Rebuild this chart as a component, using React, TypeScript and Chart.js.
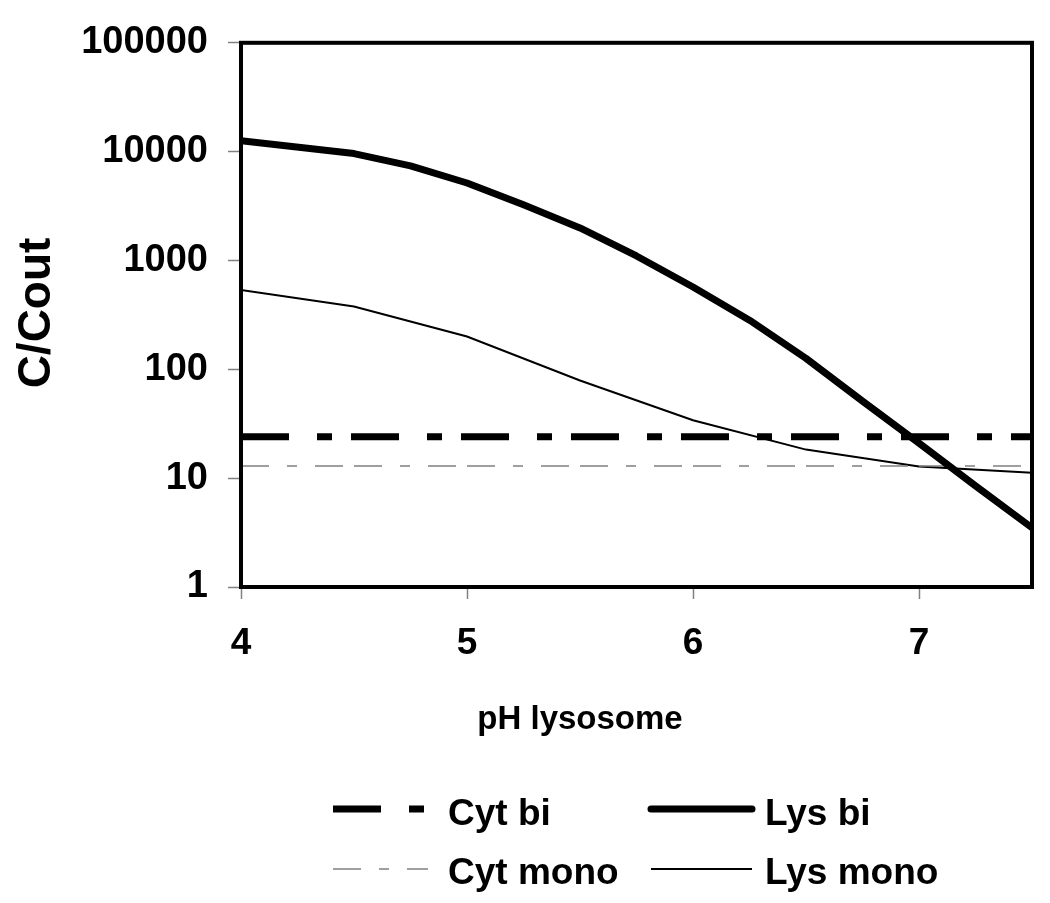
import React, { useEffect, useRef } from "react";
import { Chart, registerables } from "chart.js";

Chart.register(...registerables);

// ---- data ----
const phBi = [4, 4.5, 4.75, 5, 5.25, 5.5, 5.75, 6, 6.25, 6.5, 6.75, 7, 7.25, 7.5];
const lysBi = [12600, 9600, 7400, 5150, 3250, 1990, 1100, 570, 283, 126, 51, 21, 8.5, 3.5];
const phMono = [4, 4.5, 5, 5.5, 6, 6.5, 7, 7.5];
const lysMono = [535, 378, 200, 79, 34, 18.3, 12.8, 11.2];
const phRange = [4, 7.5];
const cytBi = [24, 24];
const cytMono = [12.9, 12.9];
const xTicks = [4, 5, 6, 7];
const yTicks = [1, 10, 100, 1000, 10000, 100000];
const seriesNames = ["Cyt bi", "Lys bi", "Cyt mono", "Lys mono"];
const yTitle = "C/Cout";
const xTitle = "pH lysosome";

const FONT = '"Liberation Sans", Arial, sans-serif';

const toPts = (xs: number[], ys: number[]) => xs.map((x, i) => ({ x, y: ys[i] }));

const decorPlugin = {
  id: "decor",
  afterDatasetsDraw(chart: any) {
    const { ctx, chartArea: a } = chart;
    ctx.save();
    ctx.strokeStyle = "#000";
    ctx.lineWidth = 4;
    ctx.setLineDash([]);
    ctx.strokeRect(a.left, a.top, a.right - a.left, a.bottom - a.top);
    ctx.restore();
  },
  afterDraw(chart: any) {
    const { ctx } = chart;
    ctx.save();
    ctx.fillStyle = "#000";
    // y title
    ctx.font = `bold 46px ${FONT}`;
    ctx.save();
    ctx.translate(50, 313);
    ctx.rotate(-Math.PI / 2);
    ctx.textAlign = "center";
    ctx.textBaseline = "alphabetic";
    ctx.fillText(yTitle, 0, 0);
    ctx.restore();
    // x title
    ctx.font = `bold 33px ${FONT}`;
    ctx.textAlign = "center";
    ctx.textBaseline = "alphabetic";
    ctx.fillText(xTitle, 580, 729);

    // legend (2 x 2)
    const cols = [
      { x0: 333, x1: 428, tx: 448 },
      { x0: 651, x1: 752, tx: 765 },
    ];
    const rows = [
      { ly: 809, ty: 825 },
      { ly: 869, ty: 884 },
    ];
    const layout = [
      [0, 0],
      [1, 0],
      [0, 1],
      [1, 1],
    ];
    chart.data.datasets.forEach((ds: any, i: number) => {
      const [c, r] = layout[i];
      const col = cols[c];
      const row = rows[r];
      ctx.save();
      ctx.strokeStyle = ds.borderColor;
      ctx.lineWidth = ds.borderWidth;
      ctx.setLineDash(ds.borderDash || []);
      ctx.lineCap = ds.legendCap || "butt";
      ctx.beginPath();
      ctx.moveTo(col.x0, row.ly);
      ctx.lineTo(col.x1, row.ly);
      ctx.stroke();
      ctx.restore();
      ctx.font = `bold 37px ${FONT}`;
      ctx.textAlign = "left";
      ctx.textBaseline = "alphabetic";
      ctx.fillStyle = "#000";
      ctx.fillText(ds.label, col.tx, row.ty);
    });
    ctx.restore();
  },
};

export default function App() {
  const ref = useRef<HTMLCanvasElement | null>(null);

  useEffect(() => {
    if (!ref.current) return;
    const chart = new Chart(ref.current, {
      type: "line",
      data: {
        datasets: [
          {
            label: seriesNames[0],
            data: toPts(phRange, cytBi),
            borderColor: "#000",
            borderWidth: 7,
            borderDash: [48, 28, 15, 19],
            borderCapStyle: "butt",
            pointRadius: 0,
            tension: 0,
          } as any,
          {
            label: seriesNames[1],
            data: toPts(phBi, lysBi),
            borderColor: "#000",
            borderWidth: 7,
            borderJoinStyle: "round",
            pointRadius: 0,
            tension: 0,
            legendCap: "round",
          } as any,
          {
            label: seriesNames[2],
            data: toPts(phRange, cytMono),
            borderColor: "#808080",
            borderWidth: 1.5,
            borderDash: [28, 18, 10, 18, 28, 11],
            pointRadius: 0,
            tension: 0,
          } as any,
          {
            label: seriesNames[3],
            data: toPts(phMono, lysMono),
            borderColor: "#000",
            borderWidth: 2,
            pointRadius: 0,
            tension: 0,
          } as any,
        ],
      },
      options: {
        responsive: false,
        animation: false,
        parsing: true,
        layout: { padding: { top: 36, right: 18, left: 0, bottom: 0 } },
        plugins: {
          legend: { display: false },
          tooltip: { enabled: false },
          title: { display: false },
        },
        scales: {
          x: {
            type: "linear",
            position: "bottom",
            min: 4,
            max: 7.5,
            afterBuildTicks: (s: any) => {
              s.ticks = xTicks.map((v) => ({ value: v }));
            },
            afterFit: (s: any) => {
              s.height = 903 - 587;
            },
            ticks: {
              autoSkip: false,
              maxRotation: 0,
              padding: 23,
              color: "#000",
              font: { family: FONT, size: 37, weight: "bold" },
              callback: (v: any) => String(v),
            },
            grid: {
              drawOnChartArea: false,
              drawTicks: true,
              tickLength: 12,
              tickColor: "#808080",
              tickWidth: 1.5,
            },
            border: { display: false },
          },
          y: {
            type: "logarithmic",
            position: "left",
            min: 1,
            max: 100000,
            afterBuildTicks: (s: any) => {
              s.ticks = yTicks.map((v) => ({ value: v, major: true }));
            },
            afterFit: (s: any) => {
              s.width = 241;
            },
            ticks: {
              autoSkip: false,
              padding: 20,
              color: "#000",
              font: { family: FONT, size: 38, weight: "bold" },
              callback: (v: any) => String(v),
            },
            grid: {
              drawOnChartArea: false,
              drawTicks: true,
              tickLength: 13,
              tickColor: "#808080",
              tickWidth: 1.5,
            },
            border: { display: false },
          },
        },
      } as any,
      plugins: [decorPlugin],
    });
    return () => chart.destroy();
  }, []);

  return (
    <div style={{ position: "absolute", left: 0, top: 0, width: 1050, height: 903, background: "#fff" }}>
      <canvas ref={ref} width={1050} height={903} style={{ display: "block" }} />
    </div>
  );
}
